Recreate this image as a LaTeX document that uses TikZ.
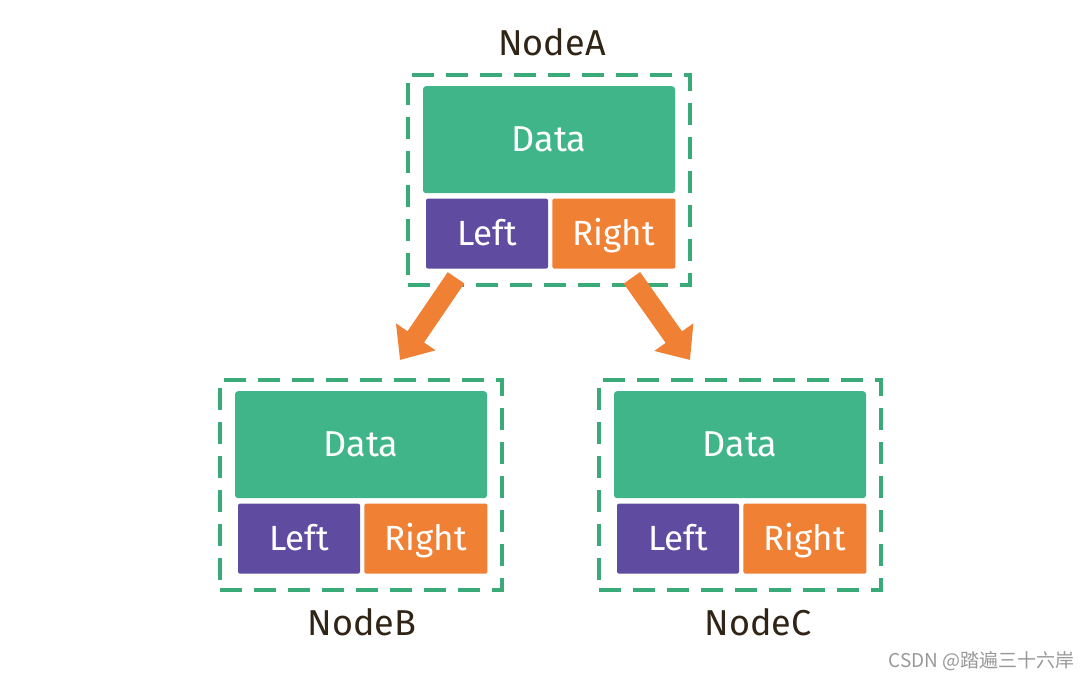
\documentclass[tikz,border=0pt]{standalone}
\usepackage{fontspec}
\setmainfont{Fira Sans}
\newfontfamily\cjkfont{Noto Sans CJK SC}
\usetikzlibrary{arrows.meta}
\usetikzlibrary{positioning}

\definecolor{datagreen}{RGB}{64,181,137}
\definecolor{leftpurple}{RGB}{95,75,160}
\definecolor{rightorange}{RGB}{240,128,52}
\definecolor{dashgreen}{RGB}{58,170,120}
\definecolor{labelbrown}{RGB}{48,36,22}

\begin{document}
\begin{tikzpicture}
  [x=1pt,y=-1pt,
   node box/.style={rectangle,draw=dashgreen,line width=4pt,dash pattern=on 22pt off 12pt,minimum width=282pt,minimum height=210pt,inner sep=0pt},
   data box/.style={rectangle,fill=datagreen,rounded corners=3pt,minimum width=252pt,minimum height=107pt,inner sep=0pt,text=white,font=\fontsize{36}{36}\selectfont},
   left box/.style={rectangle,fill=leftpurple,rounded corners=2pt,minimum width=122pt,minimum height=70pt,inner sep=0pt,text=white,text height=24pt,text depth=0pt,font=\fontsize{35}{35}\selectfont},
   right box/.style={rectangle,fill=rightorange,rounded corners=2pt,minimum width=123pt,minimum height=70pt,inner sep=0pt,text=white,text height=24pt,text depth=0pt,font=\fontsize{35}{35}\selectfont},
   name label/.style={text=labelbrown,font=\fontsize{36}{36}\selectfont},
   child arrow/.style={draw=rightorange,line width=20pt,-{Triangle[width=46pt,length=28pt]}}]
  \fill[white] (0,0) rectangle (1091,680);
  \useasboundingbox (0,0) rectangle (1091,680);

  % NodeA
  \node[node box]   (aBox)  at (549,180) {};
  \node[data box]   (aD)    [below=13pt of aBox.north] {Data};
  \node[left box]   (aL)    [below right=5pt and 3pt of aD.south west, anchor=north west] {Left};
  \node[right box]  (aR)    [right=4pt of aL] {Right};
  \node[name label] (aName) at (552,42) {NodeA};

  % NodeB
  \node[node box]   (bBox)  at (361,485) {};
  \node[data box]   (bD)    [below=13pt of bBox.north] {Data};
  \node[left box]   (bL)    [below right=5pt and 3pt of bD.south west, anchor=north west] {Left};
  \node[right box]  (bR)    [right=4pt of bL] {Right};
  \node[name label] (bName) at (362,622) {NodeB};

  % NodeC
  \node[node box]   (cBox)  at (740,485) {};
  \node[data box]   (cD)    [below=13pt of cBox.north] {Data};
  \node[left box]   (cL)    [below right=5pt and 3pt of cD.south west, anchor=north west] {Left};
  \node[right box]  (cR)    [right=4pt of cL] {Right};
  \node[name label] (cName) at (758,622) {NodeC};

  \draw[child arrow] ([xshift=-31pt,yshift=-9pt]aL.south) -- ([xshift=39pt,yshift=18pt]bBox.north);
  \draw[child arrow] ([xshift=18pt,yshift=-9pt]aR.south) -- ([xshift=-50pt,yshift=18pt]cBox.north);

  \node[text=gray!80,font=\cjkfont\fontsize{19}{19}\selectfont,anchor=east] (mark) at (1078,661) {CSDN @踏遍三十六岸};
\end{tikzpicture}
\end{document}
